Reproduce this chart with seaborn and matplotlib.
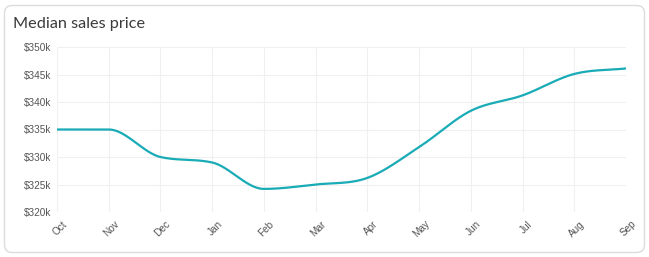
import numpy as np
import pandas as pd
import matplotlib
matplotlib.use("Agg")
import matplotlib.pyplot as plt
import matplotlib.transforms as mtransforms
import seaborn as sns
from matplotlib.patches import FancyBboxPatch

months = ["Oct", "Nov", "Dec", "Jan", "Feb", "Mar", "Apr", "May", "Jun", "Jul", "Aug", "Sep"]
prices_k = [335, 335, 330, 329, 324.2, 325, 326.2, 331.8, 338.4, 341.2, 345.1, 346.1]
yticks_k = [320, 325, 330, 335, 340, 345, 350]
ytick_labels = ["$320k", "$325k", "$330k", "$335k", "$340k", "$345k", "$350k"]
title = "Median sales price"


def monotone_curve(x, y, per_seg=40):
    """Render-only monotone cubic (Fritsch-Carlson) smoothing, like Chart.js."""
    x = np.asarray(x, float)
    y = np.asarray(y, float)
    n = len(x)
    h = np.diff(x)
    d = np.diff(y) / h
    m = np.zeros(n)
    m[0], m[-1] = d[0], d[-1]
    for i in range(1, n - 1):
        if d[i - 1] * d[i] <= 0:
            m[i] = 0
        else:
            m[i] = (d[i - 1] + d[i]) / 2
    for i in range(n - 1):
        if d[i] == 0:
            m[i] = m[i + 1] = 0
        else:
            a, b = m[i] / d[i], m[i + 1] / d[i]
            s = a * a + b * b
            if s > 9:
                t = 3 / np.sqrt(s)
                m[i] = t * a * d[i]
                m[i + 1] = t * b * d[i]
    xs, ys = [], []
    for i in range(n - 1):
        t = np.linspace(0, 1, per_seg, endpoint=(i == n - 2))
        h00 = 2 * t**3 - 3 * t**2 + 1
        h10 = t**3 - 2 * t**2 + t
        h01 = -2 * t**3 + 3 * t**2
        h11 = t**3 - t**2
        xs.append(x[i] + t * h[i])
        ys.append(h00 * y[i] + h10 * h[i] * m[i] + h01 * y[i + 1] + h11 * h[i] * m[i + 1])
    return np.concatenate(xs), np.concatenate(ys)


sns.set_theme(style="white")
plt.rcParams["font.family"] = ["Liberation Sans", "DejaVu Sans"]

fig = plt.figure(figsize=(6.49, 2.57), dpi=100)
fig.patch.set_facecolor("white")

card = FancyBboxPatch((4.5 / 649, 4.5 / 257), 640 / 649, 247 / 257,
                      boxstyle="round,pad=0,rounding_size=0.012",
                      transform=fig.transFigure, facecolor="white",
                      edgecolor="#dcdcdc", linewidth=1.0, zorder=-10,
                      mutation_aspect=649 / 257)
fig.patches.append(card)

fig.text(13 / 649, 1 - 24 / 257, title, fontsize=11.7, color="#3a3a3a",
         family=["Lato", "DejaVu Sans"], va="center", ha="left")

ax = fig.add_axes([57 / 649, 1 - 212 / 257, (626 - 57) / 649, 165 / 257])
ax.set_facecolor("none")
ax.set_zorder(5)

xpos = np.arange(len(months))
cx, cy = monotone_curve(xpos, prices_k)
curve = pd.DataFrame({"x": cx, "y": cy})
sns.lineplot(data=curve, x="x", y="y", ax=ax, color="#19abb6", linewidth=1.6,
             sort=False, estimator=None)

ax.set_xlim(0, len(months) - 1)
ax.set_ylim(yticks_k[0], yticks_k[-1])
ax.set_xticks(xpos)
ax.set_xticklabels(months, rotation=45, ha="right", rotation_mode="anchor")
ax.set_yticks(yticks_k)
ax.set_yticklabels(ytick_labels)
ax.tick_params(axis="both", labelsize=7.2, colors="#555555", length=0, pad=4)
ax.tick_params(axis="x", pad=5)
shift = mtransforms.ScaledTranslation(5 / 100, 0, fig.dpi_scale_trans)
for lab in ax.get_xticklabels():
    lab.set_transform(lab.get_transform() + shift)
ax.grid(True, color="#f0f0f0", linewidth=0.8)
for s in ax.spines.values():
    s.set_visible(False)
ax.set_xlabel("")
ax.set_ylabel("")

fig.savefig("out.png", dpi=100)
